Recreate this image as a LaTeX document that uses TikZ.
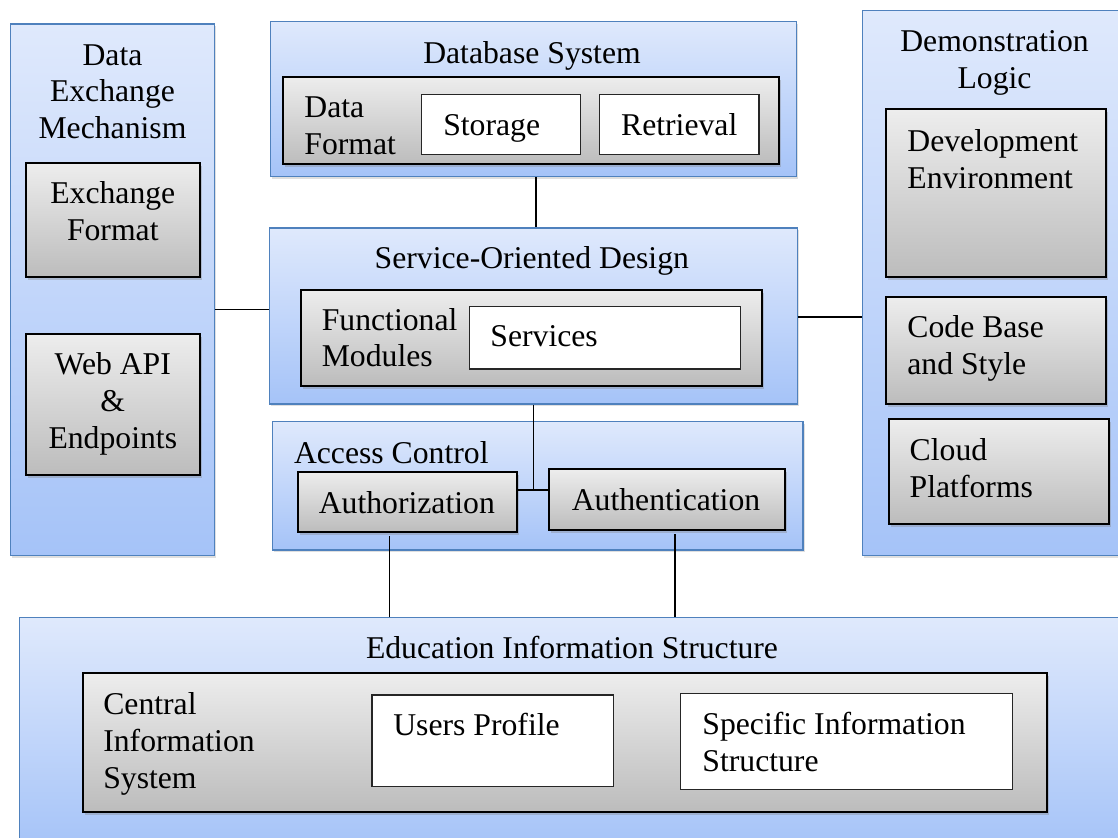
\documentclass[tikz,border=0pt]{standalone}
\usepackage{fontspec}
\setmainfont{Liberation Serif}
\usetikzlibrary{fit,shadows}
\definecolor{pborder}{HTML}{4F81BD}
\definecolor{ptop}{HTML}{DFE9FC}
\definecolor{pbot}{HTML}{A5C3F8}
\definecolor{gtop}{HTML}{EDEDED}
\definecolor{gbot}{HTML}{BCBCBC}
\tikzset{
  panel/.style={draw=pborder, line width=0.75pt, top color=ptop, bottom color=pbot, inner sep=0pt,
    drop shadow={shadow xshift=0.8pt, shadow yshift=-1.2pt, opacity=0.25}},
  graybox/.style={draw=black, line width=1pt, top color=gtop, bottom color=gbot, inner sep=0pt,
    drop shadow={shadow xshift=1pt, shadow yshift=-1.5pt, opacity=0.35}},
  whitebox/.style={draw=black!85, line width=0.6pt, fill=white, inner sep=0pt},
  txt/.style={font=\fontsize{15.85}{18.35}\selectfont, inner sep=0pt, align=left, text=black},
  ctxt/.style={txt, align=center},
  wire/.style={draw=black, line width=0.8pt},
}
\begin{document}
\begin{tikzpicture}[x=0.5pt, y=-0.5pt]
\useasboundingbox (0,0) rectangle (1118,837);
\fill[white] (0,0) rectangle (1118,837);
\clip (0,0) rectangle (1118,837);

% ---- Data Exchange Mechanism
\node[panel, fit={(10.7,24) (214.3,555.7)}] (dex) {};
\node[graybox, fit={(25.7,163.3) (200,277.3)}] (exf) {};
\node[graybox, fit={(25.7,334) (200,475.3)}] (wapi) {};
\node[ctxt, anchor=base] (tdex) at (112.5,138.4) {Data\\Exchange\\Mechanism};
\node[ctxt, anchor=base] (texf) at (112.8,240) {Exchange\\Format};
\node[ctxt, anchor=base] (twapi) at (112.8,448) {Web API\\\&\\Endpoints};

% ---- Database System
\node[panel, fit={(270.4,21.3) (796.4,176.7)}] (db) {};
\node[graybox, fit={(283.2,76.7) (778.6,164.3)}] (dbin) {};
\node[whitebox, fit={(421.4,94.3) (580.7,154.7)}] (sto) {};
\node[whitebox, fit={(599.3,94.3) (758.9,154.7)}] (ret) {};
\node[ctxt, anchor=base] (tdb) at (532,63.3) {Database System};
\node[txt, anchor=base west] (tdf) at (304,154.3) {Data\\Format};
\node[txt, anchor=base west] (tsto) at (442.9,135) {Storage};
\node[txt, anchor=base west] (tret) at (620.7,135) {Retrieval};

% ---- Service-Oriented Design
\node[panel, fit={(269.3,228) (797.5,404)}] (sod) {};
\node[graybox, fit={(300.7,290) (761.8,385.7)}] (fm) {};
\node[whitebox, fit={(469.3,306.7) (740.4,369)}] (srv) {};
\node[ctxt, anchor=base] (tsod) at (531.8,268.3) {Service-Oriented Design};
\node[txt, anchor=base west] (tfm) at (321.4,366.7) {Functional\\Modules};
\node[txt, anchor=base west] (tsrv) at (490,346.7) {Services};

% ---- Demonstration Logic
\node[panel, fit={(862.5,10.7) (1130,555.7)}] (dl) {};
\node[graybox, fit={(885.7,109.3) (1106.4,277.3)}] (dev) {};
\node[graybox, fit={(885.7,297.3) (1106.4,404.3)}] (cbs) {};
\node[graybox, fit={(888.6,419.3) (1108.9,524)}] (cp) {};
\node[ctxt, anchor=base] (tdl) at (994.5,88.3) {Demonstration\\Logic};
\node[txt, anchor=base west] (tdev) at (907,188.3) {Development\\Environment};
\node[txt, anchor=base west] (tcbs) at (907,374) {Code Base\\and Style};
\node[txt, anchor=base west] (tcp) at (909.3,497.5) {Cloud\\Platforms};

% ---- Access Control
\node[panel, fit={(272.5,421.3) (803.2,550)}] (ac) {};
\node[graybox, fit={(297.9,471.7) (517.1,532.3)}] (authz) {};
\node[graybox, fit={(549.3,469.3) (785.4,530)}] (authn) {};
\node[txt, anchor=base west] (tac) at (293.6,463.3) {Access Control};
\node[ctxt, anchor=base] (tauthz) at (406.8,513.3) {Authorization};
\node[ctxt, anchor=base] (tauthn) at (666,510) {Authentication};

% ---- Education Information Structure
\node[panel, fit={(19.6,617.7) (1135,850)}] (eis) {};
\node[graybox, fit={(82.5,673.3) (1046.8,812)}] (cis) {};
\node[whitebox, fit={(372,695) (613.6,786.7)}] (up) {};
\node[whitebox, fit={(680.7,693.7) (1012.1,789.3)}] (sis) {};
\node[ctxt, anchor=base] (teis) at (572,658.3) {Education Information Structure};
\node[txt, anchor=base west] (tcis) at (102.9,788.3) {Central\\Information\\System};
\node[txt, anchor=base west] (tup) at (392.9,735) {Users Profile};
\node[txt, anchor=base west] (tsis) at (702,771) {Specific Information\\Structure};

% ---- connectors
\coordinate (j) at (533.6,490);
\draw[wire] (db.south -| 535.7,0) -- (sod.north -| 535.7,0);
\draw[wire] (dex.east |- 0,309.3) -- (sod.west |- 0,309.3);
\draw[wire] (sod.east |- 0,316.7) -- (dl.west |- 0,316.7);
\draw[wire] (sod.south -| j) -- (j);
\draw[wire] (authz.east |- j) -- (authn.west |- j);
\draw[wire] (389.6,536) -- (eis.north -| 389.6,0);
\draw[wire] (675,534) -- (eis.north -| 675,0);
\end{tikzpicture}
\end{document}
